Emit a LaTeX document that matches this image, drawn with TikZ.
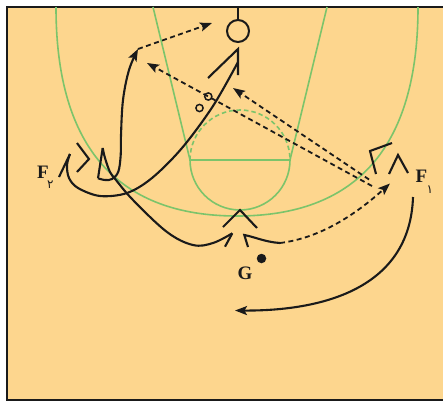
\documentclass[tikz,border=0pt]{standalone}
\usepackage{fontspec}
\setmainfont{Liberation Serif}
\newfontfamily\arabicfont[Script=Arabic]{DejaVu Sans}
\usetikzlibrary{arrows.meta}
\definecolor{court}{HTML}{FDD68E}
\definecolor{lgreen}{HTML}{7CC46B}
\definecolor{ink}{HTML}{1A1A1A}
\begin{document}
\begin{tikzpicture}[x=1pt,y=-1pt,
  courtline/.style={draw=lgreen,line width=1.6pt},
  move/.style={draw=ink,line width=2.1pt,line join=miter},
  pass/.style={draw=ink,line width=1.8pt,dash pattern=on 5pt off 3.5pt},
  head/.style={-{Stealth[length=12pt,width=9pt,inset=2.5pt]}},
  lbl/.style={font=\fontsize{19}{19}\selectfont\bfseries,text=ink,inner sep=0pt},
  sublbl/.style={font=\arabicfont\fontsize{12}{12}\selectfont,text=ink,inner sep=0pt}]
\useasboundingbox (0,0) rectangle (443,402);
\fill[white] (0,0) rectangle (443,402);
\draw[fill=court,draw=ink,line width=2pt] (7,7) rectangle (452,400);
% court
\draw[courtline] (56,7) .. controls (56,150) and (120,216) .. (237,216) .. controls (354,216) and (418,150) .. (418,7);
\draw[courtline] (153,7) -- (190,160) -- (290,160) -- (327,7);
\draw[courtline] (190,160) arc[start angle=180,end angle=360,radius=50pt];
\draw[courtline,dash pattern=on 4.5pt off 3pt] (190,160) arc[start angle=180,end angle=0,radius=50pt];
% basket
\node[draw=ink,line width=2pt,circle,minimum size=22pt,inner sep=0pt] (basket) at (238,31) {};
\coordinate (top) at (238,7);
\draw[move] (top) -- (basket.north);
% players
\coordinate (f2) at (89,159);
\draw[move] (77,143) -- (f2) -- (77,172);
\coordinate (f1) at (398,155);
\draw[move] (389,174) -- (f1) -- (408,173);
\coordinate (g) at (240,210);
\draw[move] (223,227) -- (g) -- (257,228);
\node[circle,fill=ink,inner sep=0pt,minimum size=9.5pt] (ball) at (261.5,258.5) {};
% labels
\node[lbl] (lf2) at (43,172.5) {F};
\node[sublbl,anchor=north west] (sf2) at (47,181) {٢};
\node[lbl] (lf1) at (421.5,176.5) {F};
\node[sublbl,anchor=north west] (sf1) at (426.5,185.5) {١};
\node[lbl] (lg) at (245,273.5) {G};
% F2 cut to basket
\coordinate (vc) at (70,154);
\draw[move] (59,177) -- (vc);
\draw[move] plot[smooth,tension=0.55] coordinates {(70,154) (67,165) (69,178) (78,188) (100,196) (127,193) (152,178) (182,148) (213,106) (238,62)};
\draw[move] (208,78) -- (238,49) -- (238,75);
\draw[draw=ink,line width=1.5pt] (208.3,96.5) circle[radius=3.6pt];
\draw[draw=ink,line width=1.5pt] (199.5,108) circle[radius=3.6pt];
% screener: V then up to top-left
\coordinate (scr) at (102.7,148);
\coordinate (tl) at (138,49);
\draw[move] (scr) -- (98,178.3);
\draw[move,head] plot[smooth,tension=0.6] coordinates {(98,178.3) (105,180) (112,179) (118.3,171.7) (120.7,155) (121,135) (123,100) (129,70) (138,49)};
% screener to G
\draw[move] plot[smooth,tension=0.6] coordinates {(102.7,148) (105,158) (110,172) (116,180) (133,200) (167,232) (193,245) (213,243) (232.3,233.3)};
\draw[move] (232.3,233.3) -- (225,246.7);
% G move and pass to F1
\coordinate (gp) at (280,243);
\draw[move] (248,247) -- (244.3,235) .. controls (255,237) and (265,242) .. (gp);
\draw[pass,head] (gp) .. controls (320,238) and (355,215) .. (390,183.5);
% top dashed
\draw[pass,head] (tl) -- (212,23);
% passes from F1 area
\draw[pass,head] (372,186) -- (147,63);
\draw[pass,head] (369,179.5) -- (233,88);
% F1 screen mark
\draw[move] (376,174) -- (370,151) -- (392,143);
% F1 move
\draw[move,head] (413,197) .. controls (410,290) and (320,311) .. (235,310.5);
\end{tikzpicture}
\end{document}
